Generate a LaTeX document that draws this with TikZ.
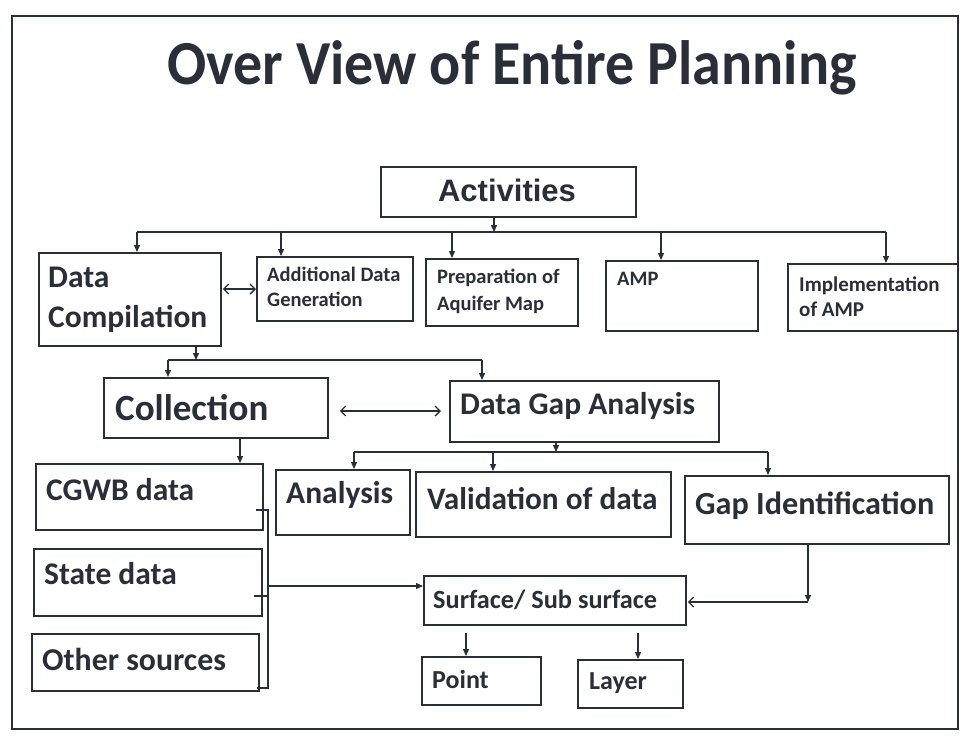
\documentclass[tikz,border=0pt]{standalone}
\usepackage{fontspec}
\setmainfont{Carlito}
\newfontfamily\arialfont{Liberation Sans}
\usetikzlibrary{arrows.meta}
\definecolor{ink}{HTML}{2A2E38}

\newcommand{\fs}[1]{\fontsize{#1}{#1}\selectfont}

\begin{document}
\begin{tikzpicture}[x=1pt,y=-1pt,
  box/.style={draw=ink, line width=1.8pt, anchor=north west, inner sep=0pt},
  lbl/.style={text=ink, font=\bfseries, anchor=base west, inner sep=0pt},
  conn/.style={draw=ink, line width=1.3pt},
  tip/.style={conn, -{Triangle[length=7pt,width=6pt]}},
  barb/.style={conn, -{Straight Barb[length=5pt,width=10pt]}},
  dbl/.style={conn, {Straight Barb[length=5pt,width=10pt]}-{Straight Barb[length=5pt,width=10pt]}}
]
\useasboundingbox (0,0) rectangle (961,745);
\fill[white] (0,0) rectangle (961,745);

% page frame
\draw[ink, line width=2pt] (12,16) rectangle (958,729);

% heading
\node[lbl, anchor=base, font=\bfseries\fs{58}, yscale=1.08] (title) at (512,84) {Over View of Entire Planning};

% top level
\node[box, minimum width=255pt, minimum height=50pt] (act) at (380,166) {};
\node[lbl, anchor=base, font=\arialfont\bfseries\fs{31}] (actT) at (507,201) {Activities};

\node[box, minimum width=182pt, minimum height=93pt] (dc) at (38,252) {};
\node[lbl, font=\bfseries\fs{31.5}] (dcA) at (48,287) {Data};
\node[lbl, font=\bfseries\fs{31.5}] (dcB) at (48,327) {Compilation};

\node[box, minimum width=156pt, minimum height=64pt] (add) at (256,256) {};
\node[lbl, font=\bfseries\fs{20.5}] (addA) at (267,281) {Additional Data};
\node[lbl, font=\bfseries\fs{20.5}] (addB) at (267,306) {Generation};

\node[box, minimum width=152pt, minimum height=67pt] (prep) at (425,258) {};
\node[lbl, font=\bfseries\fs{20.5}] (prepA) at (437,283) {Preparation of};
\node[lbl, font=\bfseries\fs{20.5}] (prepB) at (437,310) {Aquifer Map};

\node[box, minimum width=152pt, minimum height=70pt] (amp) at (605,260) {};
\node[lbl, font=\bfseries\fs{20.5}] (ampT) at (617,285) {AMP};

\node[box, minimum width=170pt, minimum height=67pt] (impl) at (787,263) {};
\node[lbl, font=\bfseries\fs{21}] (implA) at (799,291) {Implementation};
\node[lbl, font=\bfseries\fs{21}] (implB) at (799,316) {of AMP};

% second level
\node[box, minimum width=224pt, minimum height=60pt] (coll) at (103,377) {};
\node[lbl, font=\bfseries\fs{37}] (collT) at (115,420) {Collection};

\node[box, minimum width=269pt, minimum height=61pt] (dga) at (449,380) {};
\node[lbl, font=\bfseries\fs{31.5}] (dgaT) at (460,414) {Data Gap Analysis};

% sources
\node[box, minimum width=227pt, minimum height=66pt] (cgwb) at (35,463) {};
\node[lbl, font=\bfseries\fs{31.5}] (cgwbT) at (46,500) {CGWB data};

\node[box, minimum width=228pt, minimum height=67pt] (state) at (33,548) {};
\node[lbl, font=\bfseries\fs{31.5}] (stateT) at (44,584) {State data};

\node[box, minimum width=227pt, minimum height=57pt] (other) at (31,633) {};
\node[lbl, font=\bfseries\fs{31.8}] (otherT) at (42,670) {Other sources};

% gap analysis steps
\node[box, minimum width=134pt, minimum height=65pt] (ana) at (275,469) {};
\node[lbl, font=\bfseries\fs{31.5}] (anaT) at (286,503) {Analysis};

\node[box, minimum width=255pt, minimum height=65pt] (val) at (415,471) {};
\node[lbl, font=\bfseries\fs{31.3}] (valT) at (427,509) {Validation of data};

\node[box, minimum width=264pt, minimum height=68pt] (gap) at (684,475) {};
\node[lbl, font=\bfseries\fs{32.2}] (gapT) at (695,514) {Gap Identification};

% outputs
\node[box, minimum width=262pt, minimum height=49pt] (surf) at (423,575) {};
\node[lbl, font=\bfseries\fs{26.3}] (surfT) at (433,608) {Surface/ Sub surface};

\node[box, minimum width=119pt, minimum height=48pt] (point) at (421,656) {};
\node[lbl, font=\bfseries\fs{26}] (pointT) at (432,688) {Point};

\node[box, minimum width=105pt, minimum height=48pt] (layer) at (577,659) {};
\node[lbl, font=\bfseries\fs{26}] (layerT) at (589,689) {Layer};

% Activities -> five branches
\coordinate (busA) at (494,232);
\coordinate (busL) at (137,232);
\coordinate (busR) at (886,232);
\draw[tip] (act.south -| busA) -- (busA);
\draw[conn] (busL) -- (busR);
\draw[tip] (busL) -- (dc.north -| busL);
\draw[tip] (281,232) -- (add.north -| 281,0);
\draw[tip] (452,232) -- (prep.north -| 452,0);
\draw[tip] (661,232) -- (amp.north -| 661,0);
\draw[tip] (busR) -- (impl.north -| busR);
\draw[dbl] ([xshift=1pt]dc.east |- 0,289) -- (add.west |- 0,289);

% Data Compilation -> Collection / Data Gap Analysis
\coordinate (busB) at (196,360);
\coordinate (busBL) at (168,360);
\coordinate (busBR) at (482,360);
\draw[tip] (dc.south -| busB) -- (busB);
\draw[conn] (busBL) -- (busBR);
\draw[tip] (busBL) -- (coll.north -| busBL);
\draw[tip] (busBR) -- (dga.north -| busBR);
\draw[dbl] ([xshift=11pt]coll.east |- 0,411) -- ([xshift=-8pt]dga.west |- 0,411);

% Collection -> sources
\draw[tip] (coll.south -| 240,0) -- (cgwb.north -| 240,0);

% sources gathered into Surface/ Sub surface
\coordinate (brT) at (268,510);
\coordinate (brB) at (268,688);
\coordinate (brM) at (268,586);
\draw[conn] (256,510) -- (brT) -- (brB) -- (257,688);
\draw[conn] (254,596) -- (268,596);
\draw[tip] (brM) -- (surf.west |- brM);

% Data Gap Analysis -> steps
\coordinate (busC) at (556,452);
\coordinate (busCL) at (354,452);
\coordinate (busCR) at (768,452);
\draw[tip] (dga.south -| busC) -- (busC);
\draw[conn] (busCL) -- (busCR);
\draw[tip] (busCL) -- (ana.north -| busCL);
\draw[tip] (493,452) -- (val.north -| 493,0);
\draw[tip] (busCR) -- (gap.north -| busCR);

% Gap Identification -> Surface/ Sub surface
\coordinate (gapC) at (808,602);
\draw[tip] (gap.south -| gapC) -- (gapC);
\draw[barb] (gapC) -- ([xshift=1pt]surf.east |- gapC);

% Surface/ Sub surface -> Point, Layer
\draw[tip] ([yshift=-7pt]surf.south -| 466,0) -- (point.north -| 466,0);
\draw[tip] ([yshift=-7pt]surf.south -| 638,0) -- (layer.north -| 638,0);
\end{tikzpicture}
\end{document}
